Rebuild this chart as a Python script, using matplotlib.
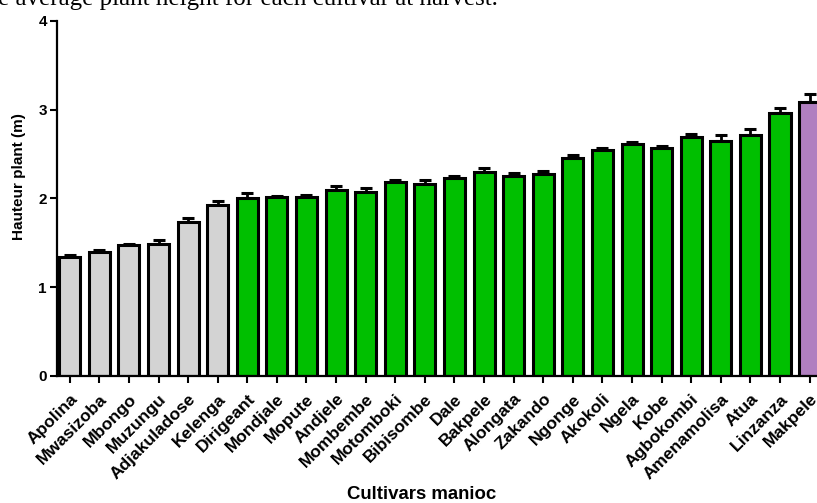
import matplotlib.pyplot as plt
import numpy as np

plt.rcParams['font.family'] = ['Liberation Sans', 'DejaVu Sans']

cultivars = ["Apolina", "Mwasizoba", "Mbongo", "Muzungu", "Adjakuladose",
             "Kelenga", "Dirigeant", "Mondjale", "Mopute", "Andjele",
             "Mombembe", "Motomboki", "Bibisombe", "Dale", "Bakpele",
             "Alongata", "Zakando", "Ngonge", "Akokoli", "Ngela", "Kobe",
             "Agbokombi", "Amenamolisa", "Atua", "Linzanza", "Makpele"]
hauteur = [1.34, 1.40, 1.47, 1.49, 1.73, 1.92, 2.00, 2.01, 2.02, 2.09,
           2.07, 2.18, 2.16, 2.23, 2.30, 2.25, 2.27, 2.46, 2.54, 2.61,
           2.57, 2.69, 2.65, 2.71, 2.96, 3.09]
erreur = [0.02, 0.015, 0.015, 0.04, 0.05, 0.05, 0.06, 0.015, 0.02, 0.05,
          0.05, 0.03, 0.05, 0.02, 0.04, 0.04, 0.04, 0.03, 0.03, 0.03,
          0.02, 0.04, 0.06, 0.07, 0.06, 0.08]
groupe = ["bas"] * 6 + ["moyen"] * 19 + ["haut"]
couleurs = {"bas": "#d3d3d3", "moyen": "#00bf00", "haut": "#b07fc0"}

fig = plt.figure(figsize=(8.17, 5.03), dpi=100)
ax = fig.add_axes([0.0694, 0.2525, 0.9306, 0.7063])

x = np.arange(len(cultivars))
ax.bar(x, hauteur, width=0.71, color=[couleurs[g] for g in groupe],
       edgecolor="black", linewidth=2.2, zorder=2)
ax.errorbar(x, hauteur, yerr=[np.zeros(len(erreur)), erreur], fmt="none",
            ecolor="black", elinewidth=2, capsize=4.3, capthick=2.2, zorder=1)

ax.set_xlim(-0.44, 25.25)
ax.set_ylim(0, 4)
ax.set_yticks([0, 1, 2, 3, 4])
ax.set_xticks(x)
ax.set_xticklabels(cultivars, rotation=45, ha="right", rotation_mode="anchor",
                   fontsize=12.5, fontweight="bold")
for lab in ax.get_yticklabels():
    lab.set_fontweight("bold")
ax.tick_params(axis="y", labelsize=11, length=5, width=1.5, pad=2)
ax.tick_params(axis="x", length=5, width=1.5, pad=6)
for side in ["top", "right"]:
    ax.spines[side].set_visible(False)
for side in ["left", "bottom"]:
    ax.spines[side].set_linewidth(1.6)

ax.set_ylabel("Hauteur plant (m)", fontsize=11, fontweight="bold")
ax.yaxis.set_label_coords(-0.041, 0.56)
fig.text(0.516, 4 / 503, "Cultivars manioc", ha="center", va="baseline",
         fontsize=13.4, fontweight="bold")

fig.text(-0.002, 1 - 5 / 503, "e average plant height for each cultivar at harvest.",
         family="Liberation Serif", fontsize=18, va="baseline", ha="left")

fig.savefig("out.png", dpi=100)
